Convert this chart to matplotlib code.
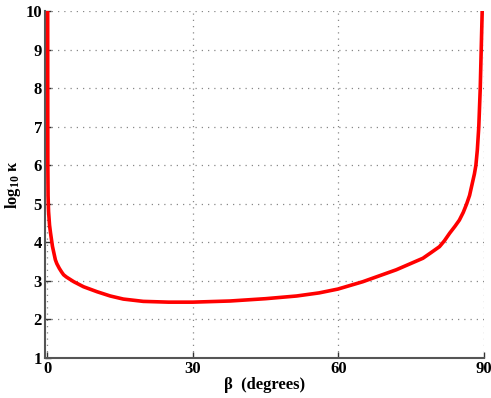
import numpy as np
import matplotlib
matplotlib.use('Agg')
import matplotlib.pyplot as plt

plt.rcParams['font.family'] = ['Liberation Serif', 'DejaVu Serif']
plt.rcParams['font.weight'] = 'bold'
plt.rcParams['mathtext.fontset'] = 'custom'
plt.rcParams['mathtext.rm'] = 'Liberation Serif:bold'
plt.rcParams['mathtext.bf'] = 'Liberation Serif:bold'

# curve
beta = [0.12, 0.13, 0.15, 0.2, 0.3, 0.5, 0.7, 1.1, 1.7, 2.0, 2.5, 3.0, 3.4, 4.0, 4.5,
        5.5, 7.5, 10.3, 13, 15.7, 19.8, 25, 30, 37.7, 45, 51.4, 56, 59.9, 65, 71.9,
        77.4, 79, 80.8, 81.8, 82.9, 84, 84.9, 85.7, 86.4, 87, 87.5, 88, 88.3, 88.6,
        88.9, 89.2, 89.4, 89.6]
log_kappa = [10, 8, 6, 5.2, 4.8, 4.45, 4.25, 3.9, 3.55, 3.45, 3.33, 3.23, 3.16, 3.1, 3.06,
             2.98, 2.85, 2.72, 2.61, 2.53, 2.47, 2.45, 2.45, 2.48, 2.54, 2.61, 2.69, 2.79,
             2.98, 3.29, 3.59, 3.73, 3.89, 4.04, 4.24, 4.42, 4.58, 4.78, 5.0, 5.22, 5.5,
             5.78, 6.0, 6.4, 7.0, 8.0, 9.0, 10.0]

xticks = [0, 30, 60, 90]
yticks = [1, 2, 3, 4, 5, 6, 7, 8, 9, 10]

fig = plt.figure(figsize=(4.91, 3.98), dpi=100)
ax = fig.add_axes([0.091, 0.1005, 0.895, 0.871])

ax.plot(beta, log_kappa, color='#ff0000', lw=2.6, solid_joinstyle='round', zorder=3)

ax.set_xlim(-0.5, 90)
ax.set_ylim(1, 10)
ax.set_xticks(xticks)
ax.set_yticks(yticks)
ax.grid(True, color='#888888', linestyle=(0, (1, 4)), lw=0.9)

for s in ['top', 'right']:
    ax.spines[s].set_visible(False)
for s in ['left', 'bottom']:
    ax.spines[s].set_color('#555555')
    ax.spines[s].set_linewidth(1.5)

ax.tick_params(direction='in', length=4, width=1, color='#333333',
               labelsize=12, pad=2)
for lab in ax.get_xticklabels() + ax.get_yticklabels():
    lab.set_fontweight('bold')

ax.set_xlabel('β  (degrees)', fontsize=12, fontweight='bold', labelpad=0)
ax.set_ylabel(r'$\mathrm{log_{10}}$ κ', fontsize=12, fontweight='bold')
ax.yaxis.set_label_coords(-0.05, 0.5)

fig.savefig('out.png', dpi=100)
